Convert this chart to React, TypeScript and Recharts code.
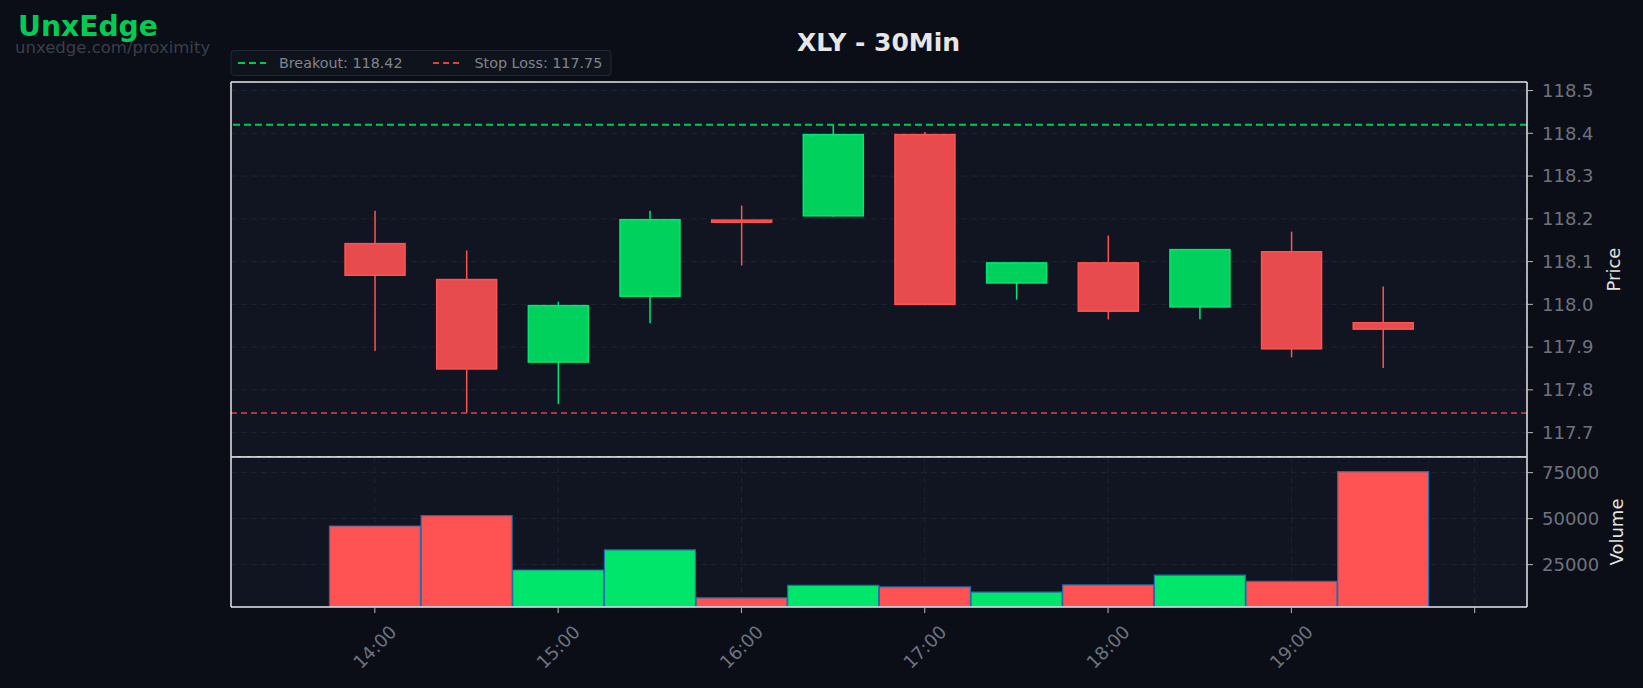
import React from "react";
import { ComposedChart, Bar, Cell, XAxis, YAxis, CartesianGrid, ReferenceLine } from "recharts";

// ── data ─────────────────────────────────────────────────────────────────────

const SLOTS = [
  "14:00", "14:30", "15:00", "15:30", "16:00", "16:30",
  "17:00", "17:30", "18:00", "18:30", "19:00", "19:30", "20:00",
];
const HOUR_LABELS = ["14:00", "15:00", "16:00", "17:00", "18:00", "19:00"];

const OPEN  = [118.142, 118.058, 117.865, 118.019, 118.197, 118.207, 118.397, 118.050, 118.097, 117.994, 118.123, 117.957];
const HIGH  = [118.219, 118.126, 118.006, 118.219, 118.231, 118.422, 118.403, 118.097, 118.161, 118.128, 118.170, 118.042];
const LOW   = [117.891, 117.746, 117.767, 117.956, 118.091, 118.205, 117.998, 118.011, 117.965, 117.965, 117.876, 117.851];
const CLOSE = [118.068, 117.849, 117.997, 118.198, 118.192, 118.397, 118.000, 118.097, 117.984, 118.128, 117.896, 117.942];
const VOLUME = [46000, 51700, 22100, 33000, 7000, 13800, 12900, 10100, 14000, 19300, 16000, 75600];

const PRICE_TICKS = [117.7, 117.8, 117.9, 118.0, 118.1, 118.2, 118.3, 118.4, 118.5];
const VOLUME_TICKS = [25000, 50000, 75000];

const BREAKOUT = 118.42;
const STOP_LOSS = 117.746;

// ── palette ──────────────────────────────────────────────────────────────────

const PAGE_BG = "#0b0e16";
const PLOT_BG = "#111521";
const GRID = "#1e2331";
const SPINE = "#e6e6e6";
const TICK_TEXT = "#6e7381";
const LABEL_TEXT = "#e3e3e3";
const UP_BODY = "#00d15c";
const UP_EDGE = "#00e676";
const DOWN_BODY = "#e84b4d";
const DOWN_EDGE = "#ff5252";
const VOL_UP = "#00e66b";
const VOL_DOWN = "#ff5252";
const FONT = "'DejaVu Sans', sans-serif";

const W = 1643;
const X_PAD = { left: 98, right: 6.5 };

const rows = SLOTS.map((t, i) =>
  i < OPEN.length
    ? {
        t,
        open: OPEN[i],
        high: HIGH[i],
        low: LOW[i],
        close: CLOSE[i],
        range: [LOW[i], HIGH[i]],
        volume: VOLUME[i],
        up: CLOSE[i] >= OPEN[i],
      }
    : { t }
);

// ── shapes ───────────────────────────────────────────────────────────────────

// eslint-disable-next-line @typescript-eslint/no-explicit-any
function Candle(props: any) {
  const { x, y, width, height, payload } = props;
  if (!payload || payload.high == null || width == null) return null;
  const { open, close, high, low, up } = payload;
  const top = Math.min(y, y + height);
  const h = Math.abs(height);
  const span = high - low || 1;
  const py = (v: number) => top + ((high - v) / span) * h;
  const cx = x + width / 2;
  const bTop = py(Math.max(open, close));
  const bBot = py(Math.min(open, close));
  const edge = up ? UP_EDGE : DOWN_EDGE;
  return (
    <g>
      <line x1={cx} x2={cx} y1={top} y2={top + h} stroke={edge} strokeWidth={1.5} />
      <rect
        x={x} y={bTop} width={width} height={Math.max(bBot - bTop, 1.5)}
        fill={up ? UP_BODY : DOWN_BODY} stroke={edge} strokeWidth={1.5}
      />
    </g>
  );
}

// eslint-disable-next-line @typescript-eslint/no-explicit-any
function TimeTick({ x, y, payload }: any) {
  const label = HOUR_LABELS.includes(payload.value) ? payload.value : "";
  const cy = y + 32;
  return (
    <text
      x={x} y={cy} dy="0.355em" textAnchor="middle"
      transform={`rotate(-45 ${x} ${cy})`}
      fill={TICK_TEXT} fontSize={18} fontFamily={FONT}
    >
      {label}
    </text>
  );
}

const spine = { stroke: SPINE, strokeWidth: 1.5 };
const tickStyle = { fill: TICK_TEXT, fontSize: 18, fontFamily: FONT };

// ── charts ───────────────────────────────────────────────────────────────────

function PriceChart() {
  return (
    <ComposedChart
      width={W} height={458} data={rows}
      margin={{ top: 81, right: 16, bottom: 0, left: 230 }}
      barCategoryGap="17.5%"
    >
      <CartesianGrid xAxisId="x" yAxisId="p" fill={PLOT_BG} stroke={GRID} strokeDasharray="6 4" />
      <XAxis
        xAxisId="x" dataKey="t" type="category" interval={1} padding={X_PAD}
        height={1} tick={false} tickLine={false} axisLine={spine}
      />
      <XAxis xAxisId="top" dataKey="t" orientation="top" height={1} tick={false} tickLine={false} axisLine={spine} />
      <YAxis
        yAxisId="p" orientation="right" width={100} type="number"
        domain={[117.643, 118.52]} ticks={PRICE_TICKS} allowDataOverflow
        tickFormatter={(v: number) => v.toFixed(1)}
        tick={tickStyle} tickSize={6} tickMargin={9}
        tickLine={{ stroke: "#b8b8b8" }} axisLine={spine}
        label={{ value: "Price", angle: -90, position: "center", dx: 37, fill: LABEL_TEXT, fontSize: 18, fontFamily: FONT }}
      />
      <YAxis yAxisId="l" orientation="left" width={1} tick={false} tickLine={false} axisLine={spine} />
      <ReferenceLine xAxisId="x" yAxisId="p" y={BREAKOUT} stroke="#00c853" strokeWidth={2} strokeDasharray="7 4" />
      <ReferenceLine xAxisId="x" yAxisId="p" y={STOP_LOSS} stroke="#d94545" strokeWidth={1.6} strokeDasharray="6 4" />
      <Bar xAxisId="x" yAxisId="p" dataKey="range" shape={Candle} isAnimationActive={false} />
    </ComposedChart>
  );
}

function VolumeChart() {
  return (
    <ComposedChart
      width={W} height={232} data={rows}
      margin={{ top: 0, right: 16, bottom: 0, left: 230 }}
      barCategoryGap="0.5%"
    >
      <CartesianGrid xAxisId="x" yAxisId="v" fill={PLOT_BG} stroke={GRID} strokeDasharray="6 4" />
      <XAxis
        xAxisId="x" dataKey="t" type="category" interval={1} padding={X_PAD}
        height={81} tickSize={6} tick={<TimeTick />}
        tickLine={{ stroke: "#b8b8b8" }} axisLine={spine}
      />
      <XAxis xAxisId="top" dataKey="t" orientation="top" height={1} tick={false} tickLine={false} axisLine={spine} />
      <YAxis
        yAxisId="v" orientation="right" width={100} type="number"
        domain={[2000, 83500]} ticks={VOLUME_TICKS} allowDataOverflow
        tick={tickStyle} tickSize={6} tickMargin={9}
        tickLine={{ stroke: "#b8b8b8" }} axisLine={spine}
        label={{ value: "Volume", angle: -90, position: "center", dx: 40, fill: LABEL_TEXT, fontSize: 18, fontFamily: FONT }}
      />
      <YAxis yAxisId="l" orientation="left" width={1} tick={false} tickLine={false} axisLine={spine} />
      <Bar xAxisId="x" yAxisId="v" dataKey="volume" stroke="#1f6fb0" strokeWidth={1.2} isAnimationActive={false}>
        {rows.map((r) => (
          <Cell key={r.t} fill={"up" in r && r.up ? VOL_UP : VOL_DOWN} />
        ))}
      </Bar>
    </ComposedChart>
  );
}

// ── header / legend ──────────────────────────────────────────────────────────

function Header() {
  return (
    <svg width={W} height={82} style={{ position: "absolute", left: 0, top: 0 }}>
      <text x={18} y={36} fill="#00cc55" fontSize={28.2} fontWeight="bold" fontFamily={FONT}>UnxEdge</text>
      <text x={15} y={52.5} fill="#3a3f4b" fontSize={16.5} fontFamily={FONT}>unxedge.com/proximity</text>
      <text x={878.5} y={51} textAnchor="middle" fill="#e6e6e6" fontSize={25} fontWeight="bold" fontFamily={FONT}>
        XLY - 30Min
      </text>
      <rect x={231} y={50.5} width={380} height={25} rx={3} fill="#0f131c" stroke="#222835" />
      <line x1={238} x2={266} y1={63} y2={63} stroke="#00c853" strokeWidth={2.2} strokeDasharray="7 4" />
      <text x={279} y={68} fill="#80858f" fontSize={14.3} fontFamily={FONT}>{`Breakout: ${BREAKOUT.toFixed(2)}`}</text>
      <line x1={433} x2={463} y1={63} y2={63} stroke="#d94545" strokeWidth={1.8} strokeDasharray="6 4" />
      <text x={474.5} y={68} fill="#80858f" fontSize={14.3} fontFamily={FONT}>{`Stop Loss: ${STOP_LOSS.toFixed(2)}`}</text>
    </svg>
  );
}

export default function App() {
  return (
    <div style={{ position: "absolute", left: 0, top: 0, width: W, height: 688, background: PAGE_BG, fontFamily: FONT, overflow: "hidden" }}>
      <Header />
      <div style={{ position: "absolute", left: 0, top: 0 }}>
        <PriceChart />
      </div>
      <div style={{ position: "absolute", left: 0, top: 456 }}>
        <VolumeChart />
      </div>
    </div>
  );
}
